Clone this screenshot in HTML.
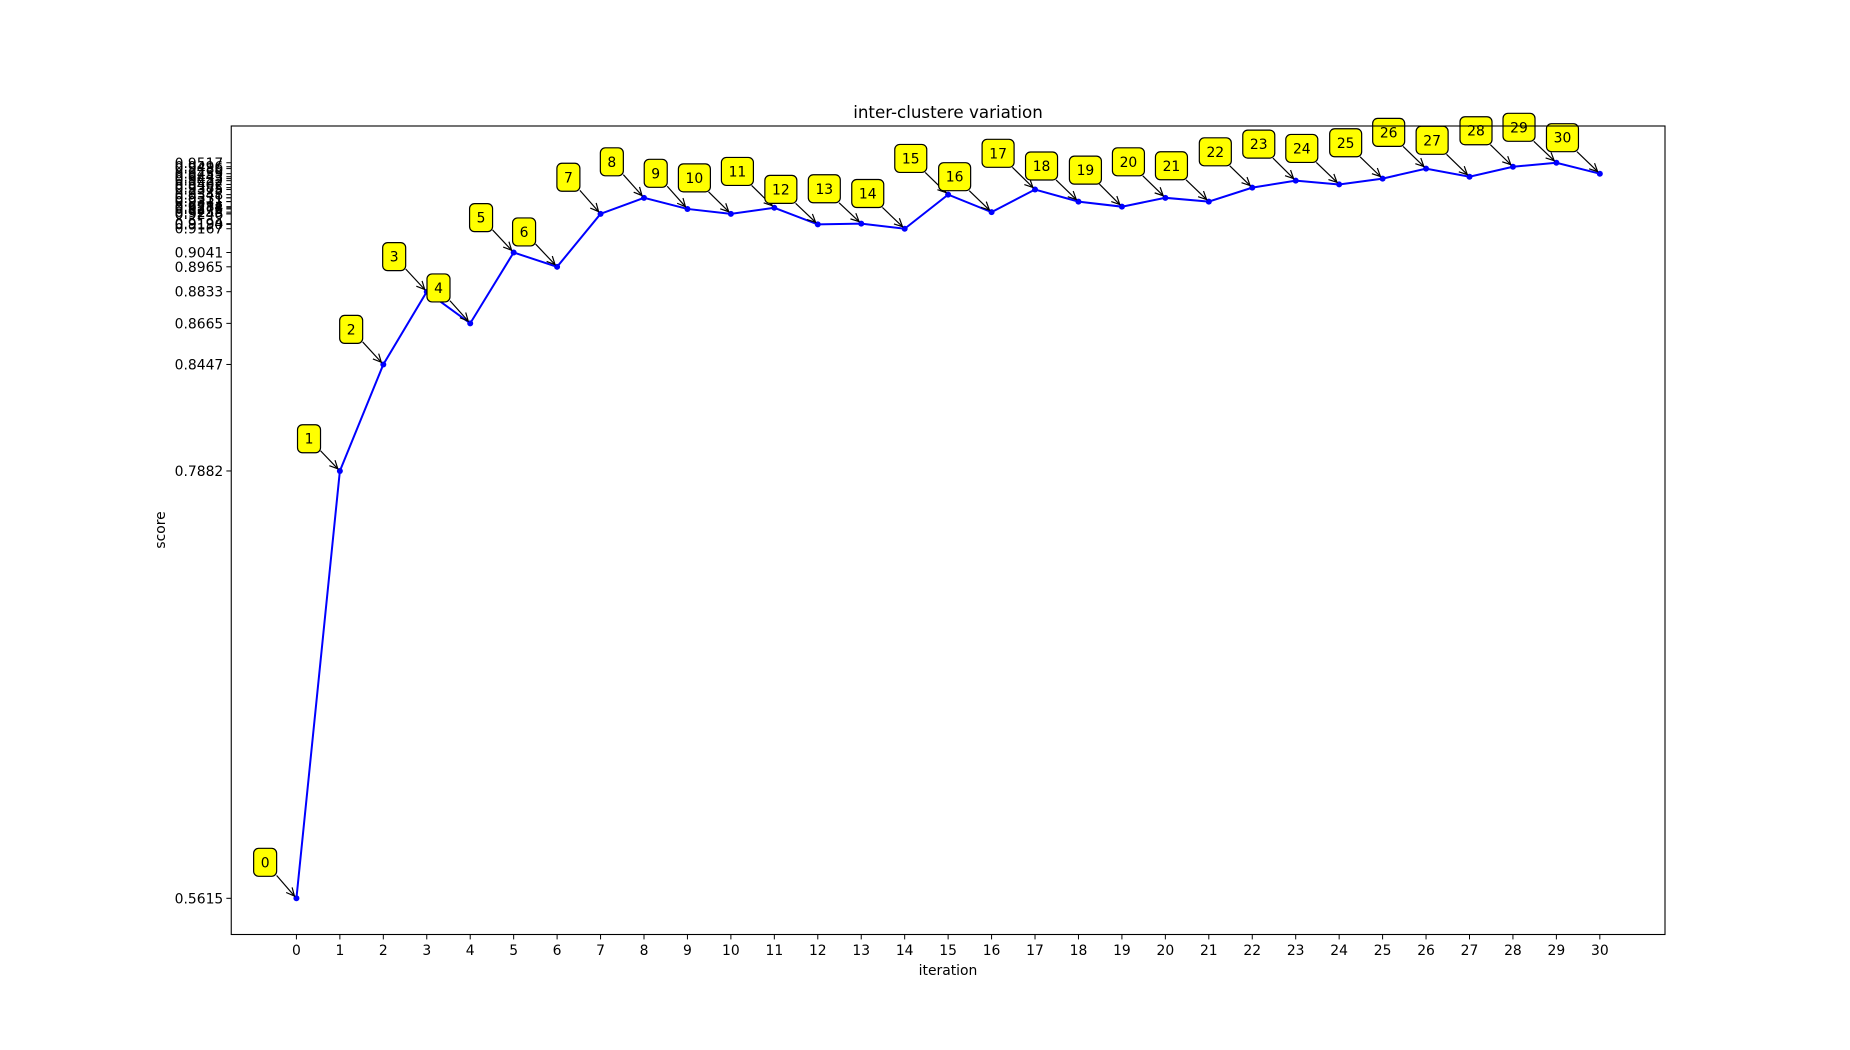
<!DOCTYPE html>
<html><head><meta charset="utf-8"><style>
html,body{margin:0;padding:0;background:#fff;}
svg{display:block;font-family:"DejaVu Sans","Liberation Sans",sans-serif;}
</style></head><body>
<svg id="chart" width="1850" height="1050" viewBox="0 0 1850 1050">
<g id="ticks"></g>
<g id="series"></g>
<g id="annots"></g>
<rect x="231.25" y="126" width="1433.75" height="808.5" fill="none" stroke="#000" stroke-width="1.1"/>
<text x="948" y="118" font-size="16.7" text-anchor="middle">inter-clustere variation</text>
<text x="948" y="975" font-size="13.9" text-anchor="middle">iteration</text>
<text x="0" y="0" font-size="13.9" text-anchor="middle" transform="translate(165,530) rotate(-90)">score</text>
</svg>
<script>
const iterations = [0,1,2,3,4,5,6,7,8,9,10,11,12,13,14,15,16,17,18,19,20,21,22,23,24,25,26,27,28,29,30];
const scores = [0.5615,0.7882,0.8447,0.8833,0.8665,0.9041,0.8965,0.9246,0.9331,0.9272,0.9246,0.9278,0.9190,0.9194,0.9167,0.9348,0.9255,0.9375,0.9311,0.9284,0.9331,0.9311,0.9385,0.9422,0.9402,0.9433,0.9486,0.9443,0.9496,0.9517,0.9459];
const labelX = [-0.72,0.29,1.26,2.25,3.27,4.25,5.24,6.26,7.26,8.27,9.16,10.15,11.15,12.15,13.15,14.14,15.15,16.15,17.15,18.16,19.15,20.14,21.15,22.15,23.14,24.15,25.14,26.14,27.15,28.14,29.14];
const labelY = [0.5806,0.8053,0.8633,0.9019,0.8853,0.9226,0.9150,0.9440,0.9522,0.9461,0.9437,0.9471,0.9376,0.9379,0.9354,0.9540,0.9443,0.9567,0.9500,0.9478,0.9522,0.9501,0.9575,0.9616,0.9593,0.9623,0.9678,0.9636,0.9687,0.9705,0.9650];

const NS = "http://www.w3.org/2000/svg";
const L=231.25,R=1665,T=126,B=934.5;
const xMin=-1.5,xMax=31.5,yMin=0.5423,yMax=0.9712;
const xs = v => L + (v-xMin)/(xMax-xMin)*(R-L);
const ys = v => B - (v-yMin)/(yMax-yMin)*(B-T);
function mk(tag, attrs, parent){const e=document.createElementNS(NS,tag);for(const k in attrs)e.setAttribute(k,attrs[k]);parent.appendChild(e);return e;}
const ticksG=document.getElementById('ticks'),seriesG=document.getElementById('series'),annG=document.getElementById('annots');

iterations.forEach(v=>{
  const x=xs(v);
  const t=mk('line',{x1:x,x2:x,y1:B,y2:B+4.9,stroke:'#000','stroke-width':1},ticksG);
  
  
  const tx=mk('text',{x:x,y:B+20.5,'font-size':13.9,'text-anchor':'middle'},ticksG);
  tx.textContent=String(v);
  
  
});
scores.forEach(v=>{
  const y=ys(v);
  const t=mk('line',{x1:L-4.9,x2:L,y1:y,y2:y,stroke:'#000','stroke-width':1},ticksG);
  
  
  const tx=mk('text',{x:L-8,y:y+5,'font-size':13.9,'text-anchor':'end'},ticksG);
  tx.textContent=v.toFixed(4);
  
  
});
const pts=iterations.map((v,i)=>xs(v)+','+ys(scores[i])).join(' ');
const pl=mk('polyline',{points:pts,fill:'none',stroke:'#0000ff','stroke-width':2},seriesG);


iterations.forEach((v,i)=>{
  const c=mk('circle',{cx:xs(v),cy:ys(scores[i]),r:3,fill:'#0000ff'},seriesG);
  
  
});
iterations.forEach((v,i)=>{
  const cx=xs(labelX[i]),cy=ys(labelY[i]);
  const px=xs(v),py=ys(scores[i]);
  const txt=String(v);
  const w= txt.length>1?32:23, h=28;
  const dx=px-cx,dy=py-cy,len=Math.hypot(dx,dy),ux=dx/len,uy=dy/len;
  const tEdge=Math.min((w/2)/Math.abs(ux||1e-9),(h/2)/Math.abs(uy||1e-9));
  const sx=cx+ux*tEdge,sy=cy+uy*tEdge;
  const ex=px-ux*3,ey=py-uy*3;
  const g=mk('g',{},annG);
  
  
  mk('line',{x1:sx,y1:sy,x2:ex,y2:ey,stroke:'#000','stroke-width':1.2},g);
  const ah=9,ang=0.45;
  const a1x=ex-ah*(ux*Math.cos(ang)-uy*Math.sin(ang)),a1y=ey-ah*(uy*Math.cos(ang)+ux*Math.sin(ang));
  const a2x=ex-ah*(ux*Math.cos(-ang)-uy*Math.sin(-ang)),a2y=ey-ah*(uy*Math.cos(-ang)+ux*Math.sin(-ang));
  mk('polyline',{points:a1x+','+a1y+' '+ex+','+ey+' '+a2x+','+a2y,fill:'none',stroke:'#000','stroke-width':1.2},g);
  const r=mk('rect',{x:cx-w/2,y:cy-h/2,width:w,height:h,rx:5,ry:5,fill:'#ffff00',stroke:'#000','stroke-width':1.2},g);
  
  
  const tx=mk('text',{x:cx,y:cy+5,'font-size':13.9,'text-anchor':'middle'},g);
  tx.textContent=txt;
  
  
});
</script>
</body></html>
